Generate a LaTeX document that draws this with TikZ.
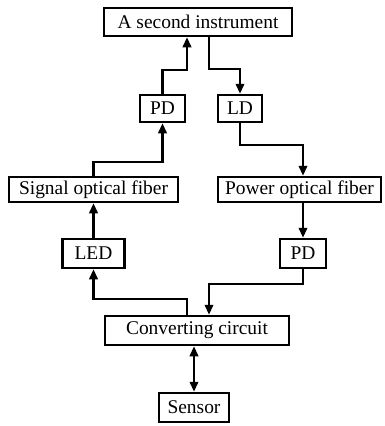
\documentclass[tikz,border=0pt]{standalone}
\usepackage{fontspec}
\setmainfont{Liberation Serif}
\usetikzlibrary{arrows.meta}
\begin{document}
\begin{tikzpicture}[x=1bp,y=-1bp,
  box/.style={draw,line width=2.5bp,inner sep=0pt,font=\fontsize{19.5}{21}\selectfont},
  conn/.style={line width=2.2bp,-{Triangle[length=10bp,width=8.5bp]}},
  conn2/.style={line width=2.2bp,{Triangle[length=10bp,width=8.5bp]}-{Triangle[length=10bp,width=8.5bp]}}]
\useasboundingbox (0,0) rectangle (385,426);
\node[box,minimum width=188bp,minimum height=28bp] (top) at (198,22) {A second instrument};
\node[box,minimum width=45bp,minimum height=27bp] (pd1) at (162.5,108.5) {PD};
\node[box,minimum width=44bp,minimum height=27bp] (ld) at (240,108.5) {LD};
\node[box,minimum width=169bp,minimum height=25bp] (signal) at (93.5,189.5) {Signal optical fiber};
\node[box,minimum width=163bp,minimum height=25bp] (power) at (299.5,189.5) {Power optical fiber};
\node[box,minimum width=62bp,minimum height=29bp] (led) at (93.5,253.5) {LED};
\node[box,minimum width=46bp,minimum height=29bp] (pd2) at (303,253.5) {PD};
\node[box,minimum width=184bp,minimum height=29bp] (conv) at (197,330.5) {Converting circuit};
\node[box,minimum width=70bp,minimum height=29bp] (sensor) at (194,407.5) {Sensor};
\coordinate (c1) at (187,70);
\coordinate (c2) at (209,69);
\coordinate (c3) at (303,145);
\coordinate (c4) at (93.5,162);
\coordinate (c5) at (187,299);
\coordinate (c6) at (209,284);
\draw[conn] (pd1.north) |- (c1) -- (c1 |- top.south);
\draw[conn] (c2 |- top.south) -- (c2) -| (ld.north);
\draw[conn] (ld.south) |- (c3) -- (c3 |- power.north);
\draw[conn] (c4 |- signal.north) -- (c4) -| (pd1.south);
\draw[conn] (led.north) -- (led.north |- signal.south);
\draw[conn] (pd2.north |- power.south) -- (pd2.north);
\draw[conn] (c5 |- conv.north) -- (c5) -| (led.south);
\draw[conn] (pd2.south) |- (c6) -- (c6 |- conv.north);
\draw[conn2] (sensor.north |- conv.south) -- (sensor.north);
\end{tikzpicture}
\end{document}
